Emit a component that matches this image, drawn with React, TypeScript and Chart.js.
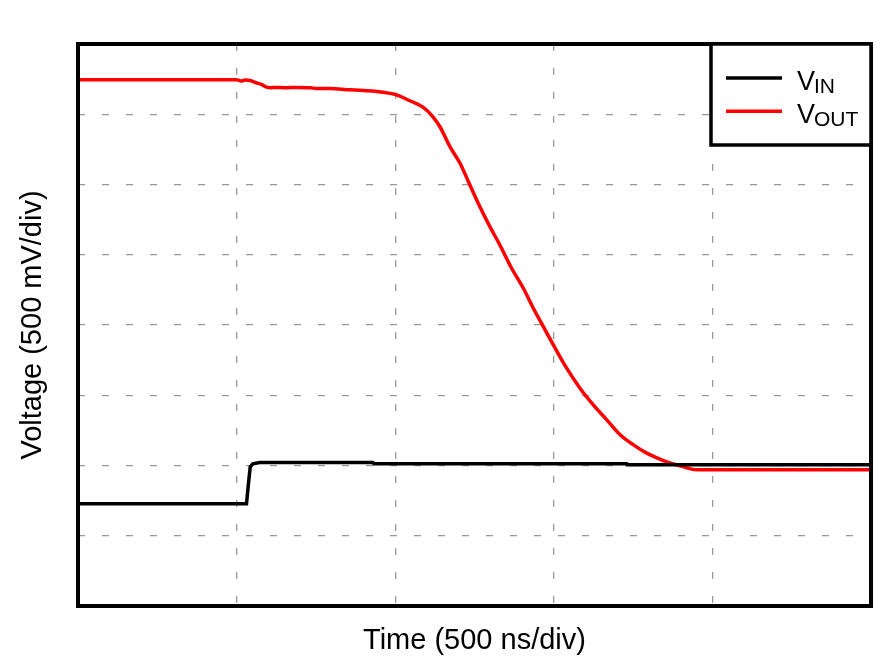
import React, { useEffect, useRef } from "react";
import { Chart, registerables } from "chart.js";

Chart.register(...registerables);

// Time axis in divisions (500 ns/div), voltage axis in divisions (500 mV/div)
const vinTime = [0, 1.0625, 1.074, 1.086, 1.102, 1.146, 1.859, 1.866, 3.46, 3.462, 5.0];
const vinVolt = [1.456, 1.456, 1.726, 1.982, 2.024, 2.043, 2.043, 2.024, 2.024, 2.01, 2.01];

const voutTime = [
  0, 0.999, 1.03, 1.052, 1.09, 1.122, 1.153, 1.185, 1.216, 1.248, 1.311, 1.374, 1.469,
  1.501, 1.589, 1.714, 1.778, 1.859, 1.935, 1.998, 2.093, 2.175, 2.238, 2.282, 2.345,
  2.408, 2.471, 2.534, 2.597, 2.66, 2.734, 2.808, 2.871, 2.934, 2.997, 3.081, 3.165,
  3.249, 3.334, 3.418, 3.502, 3.586, 3.691, 3.796, 3.902, 5.0,
];
const voutVolt = [
  7.491, 7.491, 7.472, 7.486, 7.476, 7.448, 7.429, 7.391, 7.377, 7.382, 7.377, 7.382,
  7.377, 7.367, 7.367, 7.348, 7.343, 7.33, 7.309, 7.283, 7.192, 7.102, 6.964, 6.822,
  6.538, 6.306, 5.993, 5.684, 5.4, 5.139, 4.808, 4.523, 4.239, 3.977, 3.717, 3.385,
  3.101, 2.863, 2.65, 2.437, 2.294, 2.176, 2.071, 1.996, 1.939, 1.939,
];

const seriesMain = ["V", "V"];
const seriesSub = ["IN", "OUT"];
const seriesColors = ["#000000", "#ff0000"];

const xTitle = "Time (500 ns/div)";
const yTitle = "Voltage (500 mV/div)";
const xDivisions = 5;
const yDivisions = 8;

const FONT = '"Liberation Sans", Arial, sans-serif';

const zip = (xs: number[], ys: number[]) => xs.map((x, i) => ({ x, y: ys[i] }));

const framePlugin = {
  id: "frame",
  afterDatasetsDraw(chart: any) {
    const { ctx, chartArea } = chart;
    ctx.save();
    ctx.lineWidth = 4;
    ctx.strokeStyle = "#000";
    ctx.strokeRect(
      chartArea.left,
      chartArea.top,
      chartArea.right - chartArea.left,
      chartArea.bottom - chartArea.top
    );
    ctx.restore();
  },
};

const legendPlugin = {
  id: "subLegend",
  afterDraw(chart: any) {
    const { ctx, chartArea } = chart;
    const w = 160;
    const h = 101;
    const x0 = chartArea.right - w;
    const y0 = chartArea.top;
    ctx.save();
    ctx.fillStyle = "#fff";
    ctx.fillRect(x0, y0, w, h);
    ctx.lineWidth = 3.5;
    ctx.strokeStyle = "#000";
    ctx.strokeRect(x0, y0, w, h);
    chart.data.datasets.forEach((ds: any, i: number) => {
      const cy = y0 + 34 + i * 33.3;
      ctx.strokeStyle = ds.borderColor;
      ctx.lineWidth = 3.5;
      ctx.beginPath();
      ctx.moveTo(x0 + 15, cy);
      ctx.lineTo(x0 + 71, cy);
      ctx.stroke();
      ctx.fillStyle = "#000";
      ctx.textBaseline = "alphabetic";
      ctx.textAlign = "left";
      ctx.font = `27px ${FONT}`;
      const base = cy + 12;
      const main = seriesMain[i];
      ctx.fillText(main, x0 + 86, base);
      const mw = ctx.measureText(main).width;
      ctx.font = `21px ${FONT}`;
      ctx.fillText(seriesSub[i], x0 + 86 + mw - 1, base + 3);
    });
    ctx.restore();
  },
};

export default function App() {
  const ref = useRef<HTMLCanvasElement | null>(null);

  useEffect(() => {
    if (!ref.current) return;
    const chart = new Chart(ref.current, {
      type: "line",
      data: {
        datasets: [
          {
            label: seriesMain[0] + seriesSub[0],
            data: zip(vinTime, vinVolt),
            borderColor: seriesColors[0],
            backgroundColor: seriesColors[0],
            borderWidth: 3.5,
            pointRadius: 0,
            tension: 0,
          },
          {
            label: seriesMain[1] + seriesSub[1],
            data: zip(voutTime, voutVolt),
            borderColor: seriesColors[1],
            backgroundColor: seriesColors[1],
            borderWidth: 3.5,
            pointRadius: 0,
            cubicInterpolationMode: "monotone",
          },
        ],
      },
      options: {
        animation: false,
        responsive: false,
        devicePixelRatio: 1,
        layout: { padding: { top: 44, right: 11, left: 0, bottom: 0 } },
        plugins: {
          legend: { display: false },
          tooltip: { enabled: false },
        },
        scales: {
          x: {
            type: "linear",
            min: 0,
            max: xDivisions,
            ticks: { display: false, stepSize: 1 },
            grid: { color: "#999999", lineWidth: 1.3, drawTicks: false, tickLength: 0 },
            border: { display: false, dash: [7, 17] },
            title: {
              display: true,
              text: xTitle,
              color: "#000",
              font: { family: FONT, size: 29 },
              padding: { top: 0, bottom: 10 },
            },
            afterFit: (s: any) => {
              s.height = 62;
            },
          },
          y: {
            type: "linear",
            min: 0,
            max: yDivisions,
            ticks: { display: false, stepSize: 1 },
            grid: { color: "#999999", lineWidth: 1.3, drawTicks: false, tickLength: 0 },
            border: { display: false, dash: [7, 17] },
            title: {
              display: true,
              text: yTitle,
              color: "#000",
              font: { family: FONT, size: 29 },
              padding: { top: 16, bottom: 0 },
            },
            afterFit: (s: any) => {
              s.width = 78;
            },
          },
        },
      } as any,
      plugins: [framePlugin, legendPlugin],
    });
    return () => chart.destroy();
  }, []);

  return (
    <div style={{ position: "absolute", left: 0, top: 0, width: 882, height: 668, background: "#fff" }}>
      <canvas ref={ref} width={882} height={668} style={{ width: 882, height: 668, display: "block" }} />
    </div>
  );
}
